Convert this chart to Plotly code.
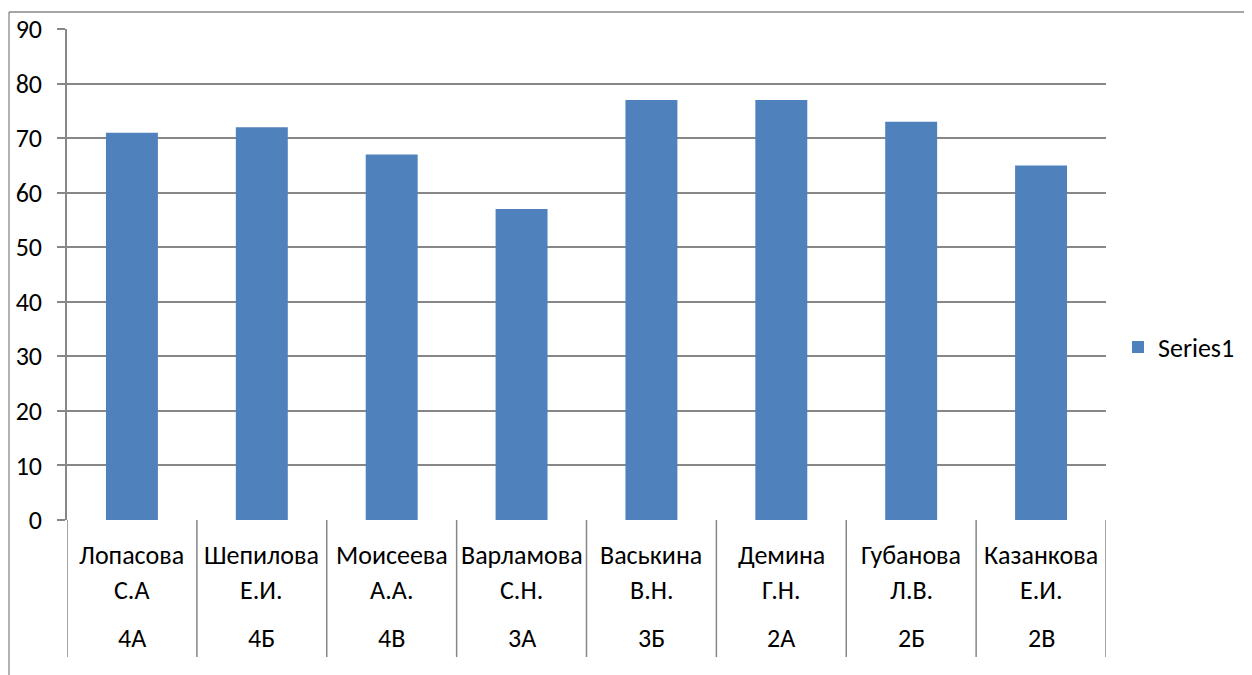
import plotly.graph_objects as go

surnames = ["Лопасова", "Шепилова", "Моисеева", "Варламова", "Васькина", "Демина", "Губанова", "Казанкова"]
initials = ["С.А", "Е.И.", "А.А.", "С.Н.", "В.Н.", "Г.Н.", "Л.В.", "Е.И."]
classes = ["4А", "4Б", "4В", "3А", "3Б", "2А", "2Б", "2В"]
values = [71, 72, 67, 57, 77, 77, 73, 65]
y_ticks = [0, 10, 20, 30, 40, 50, 60, 70, 80, 90]

OFF = 8  # page body margin
W, H = 1252 - OFF, 675 - OFF
# plot area in screenshot pixels
L, R, T, B = 67, 1106, 29, 520
FONT = "Carlito, Calibri, Noto Sans, sans-serif"
FS = 26
GRID = "#878787"


def py(p):
    return (B - p) / (B - T)


def px(p):
    return (p - L) / (R - L)


fig = go.Figure()
fig.add_trace(go.Bar(x=surnames, y=values, name="Series1", marker=dict(color="#4F81BD", line=dict(width=0))))

annotations = []
for s, ini, c in zip(surnames, initials, classes):
    for txt, yy in ((s, 555), (ini, 590), (c, 638)):
        annotations.append(dict(x=s, y=py(yy), xref="x", yref="paper", text=txt, showarrow=False,
                                font=dict(size=FS, color="black", family=FONT), yanchor="middle"))

shapes = []
n = len(surnames)
for i in range(n + 1):
    shapes.append(dict(type="line", xref="x", yref="paper", x0=i - 0.5, x1=i - 0.5,
                       y0=0, y1=py(657), line=dict(color=GRID, width=1.5)))
# chart outer border (partially outside the image)
shapes.append(dict(type="line", xref="paper", yref="paper", x0=px(9), x1=px(9), y0=py(12), y1=py(700),
                   line=dict(color="#898989", width=1.3)))
shapes.append(dict(type="line", xref="paper", yref="paper", x0=px(9), x1=px(1300), y0=py(12), y1=py(12),
                   line=dict(color="#898989", width=1.3)))

fig.update_layout(
    width=W, height=H,
    margin=dict(l=L - OFF, r=1252 - R, t=T - OFF, b=675 - B, pad=0, autoexpand=False),
    paper_bgcolor="white", plot_bgcolor="white",
    bargap=0.6,
    font=dict(family=FONT, size=FS, color="black"),
    showlegend=True,
    legend=dict(x=px(1118), y=py(347), xanchor="left", yanchor="middle",
                font=dict(size=FS, family=FONT, color="black"), itemwidth=30,
                bgcolor="rgba(0,0,0,0)"),
    annotations=annotations,
    shapes=shapes,
    xaxis=dict(showticklabels=False, ticks="", showgrid=False, showline=False, zeroline=False,
               range=[-0.5, n - 0.5], fixedrange=True, automargin=False),
    yaxis=dict(range=[0, 90], tickvals=y_ticks, showgrid=True, gridcolor=GRID, gridwidth=1.5,
               showline=True, linecolor=GRID, linewidth=1.5, ticks="outside", ticklen=8,
               tickcolor=GRID, tickwidth=1.5, zeroline=False, ticklabelstandoff=10, automargin=False,
               tickfont=dict(size=FS, family=FONT, color="black")),
)
fig.write_html("out.html")
